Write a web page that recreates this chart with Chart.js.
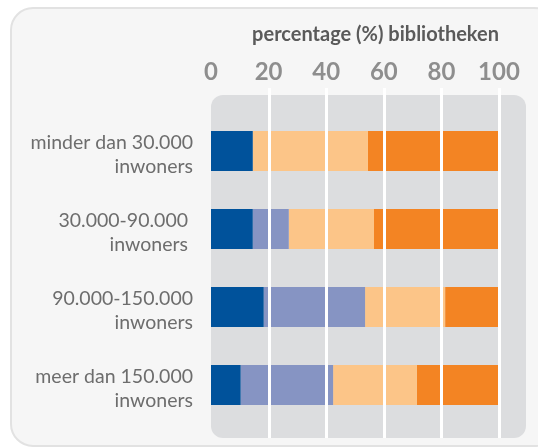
<!DOCTYPE html>
<html>
<head>
<meta charset="utf-8">
<script src="https://cdn.jsdelivr.net/npm/chart.js@4"></script>
<style>
  html, body { margin: 0; padding: 0; background: #fff; }
</style>
</head>
<body>
<canvas id="myChart" width="538" height="448"></canvas>
<script>
// Gemeentegrootte (categorieen op de y-as)
const categories = [
    ["minder dan 30.000", "inwoners"],
    ["30.000-90.000 ", "inwoners "],
    ["90.000-150.000", "inwoners"],
    ["meer dan 150.000", "inwoners"]
];

// Percentage bibliotheken per groep (stapel loopt tot 100)
const donkerblauw = [14.5, 14.5, 18.3, 10.3];
const lichtblauw = [0, 12.5, 35.2, 32.1];
const lichtoranje = [40.0, 29.6, 27.8, 29.1];
const oranje = [45.5, 43.4, 18.7, 28.5];

// Labels op de x-as
const xTicks = [0, 20, 40, 60, 80, 100];

const kleuren = ["#00529b", "#8694c3", "#fcc588", "#f38423"];

// rounded rectangle path
function roundedRect(ctx, x, y, w, h, r) {
    ctx.beginPath();
    ctx.moveTo(x + r, y);
    ctx.lineTo(x + w - r, y);
    ctx.arcTo(x + w, y, x + w, y + r, r);
    ctx.lineTo(x + w, y + h - r);
    ctx.arcTo(x + w, y + h, x + w - r, y + h, r);
    ctx.lineTo(x + r, y + h);
    ctx.arcTo(x, y + h, x, y + h - r, r);
    ctx.lineTo(x, y + r);
    ctx.arcTo(x, y, x + r, y, r);
    ctx.closePath();
}

// Background frame, grey plot box and white grid lines on top of the bars
const achtergrond = {
    id: "achtergrond",
    beforeDraw(chart) {
        const ctx = chart.ctx;
        ctx.save();
        ctx.fillStyle = "#ffffff";
        ctx.fillRect(0, 0, chart.width, chart.height);
        roundedRect(ctx, 11, 8, 545, 438, 22);
        ctx.fillStyle = "#f6f6f6";
        ctx.fill();
        ctx.lineWidth = 2;
        ctx.strokeStyle = "#e2e2e2";
        ctx.stroke();
        ctx.restore();
    },
    beforeDatasetsDraw(chart) {
        const ctx = chart.ctx;
        const a = chart.chartArea;
        ctx.save();
        roundedRect(ctx, a.left, a.top - 17, a.right - a.left + 27, a.bottom - a.top + 31, 12);
        ctx.fillStyle = "#dcdddf";
        ctx.fill();
        ctx.restore();
    },
    afterDatasetsDraw(chart) {
        const ctx = chart.ctx;
        const a = chart.chartArea;
        ctx.save();
        ctx.strokeStyle = "#ffffff";
        ctx.lineWidth = 3;
        xTicks.forEach(v => {
            if (v === 0) return;
            const x = Math.round(chart.scales.x.getPixelForValue(v)) + 0.5;
            ctx.beginPath();
            ctx.moveTo(x, a.top - 24);
            ctx.lineTo(x, a.bottom + 14);
            ctx.stroke();
        });
        ctx.restore();
    }
};

new Chart("myChart", {
    type: "bar",
    data: {
        labels: categories,
        datasets: [
            { label: "donkerblauw", data: donkerblauw, backgroundColor: kleuren[0] },
            { label: "lichtblauw", data: lichtblauw, backgroundColor: kleuren[1] },
            { label: "lichtoranje", data: lichtoranje, backgroundColor: kleuren[2] },
            { label: "oranje", data: oranje, backgroundColor: kleuren[3] }
        ]
    },
    options: {
        indexAxis: "y",
        responsive: false,
        animation: false,
        layout: { padding: { top: 0, right: 39, bottom: 24, left: 0 } },
        datasets: { bar: { categoryPercentage: 1, barPercentage: 0.51, borderWidth: 0 } },
        plugins: {
            legend: { display: false },
            tooltip: { enabled: false }
        },
        scales: {
            x: {
                position: "top",
                stacked: true,
                min: 0,
                max: 100,
                grid: { display: false, drawTicks: false },
                border: { display: false },
                afterFit(scale) {
                    scale.height = 112;
                    scale.paddingLeft = 0;
                    scale.paddingRight = 0;
                },
                ticks: {
                    stepSize: 20,
                    padding: 25,
                    color: "#8e8e8e",
                    font: { family: "Lato", size: 24, weight: "bold" }
                },
                title: {
                    display: true,
                    text: "percentage (%) bibliotheken",
                    align: "end",
                    color: "#5a5a5a",
                    padding: { top: 23, bottom: 0 },
                    font: { family: "Lato", size: 20, weight: "bold" }
                }
            },
            y: {
                stacked: true,
                grid: { display: false, drawTicks: false },
                border: { display: false },
                afterFit(scale) {
                    scale.width = 211;
                    scale.paddingTop = 0;
                    scale.paddingBottom = 0;
                },
                ticks: {
                    padding: 18,
                    labelOffset: 4,
                    color: "#6d6d6d",
                    font: { family: "Lato", size: 19.5, lineHeight: 1.23 }
                }
            }
        }
    },
    plugins: [achtergrond]
});
</script>
</body>
</html>
